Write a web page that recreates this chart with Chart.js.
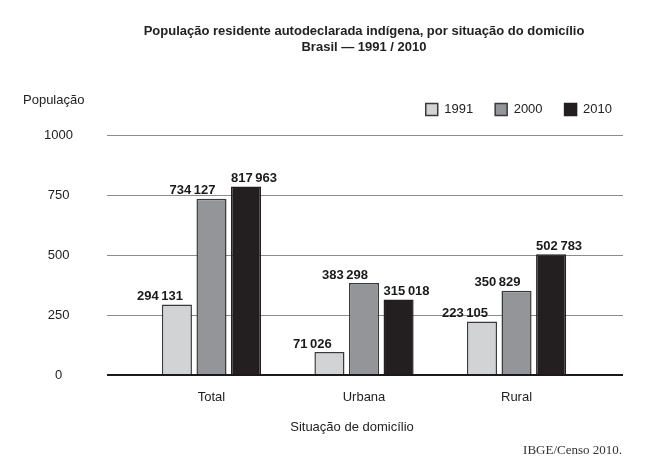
<!DOCTYPE html>
<html lang="pt-BR">
<head>
<meta charset="utf-8">
<script src="https://cdn.jsdelivr.net/npm/chart.js@4.4.0/dist/chart.umd.min.js"></script>
<style>
  html, body { margin: 0; padding: 0; background: #fff; }
</style>
</head>
<body>
<canvas id="chart" width="652" height="469"></canvas>
<script>
const categories = ['Total', 'Urbana', 'Rural'];
const years = ['1991', '2000', '2010'];
const heights1991 = [294.1, 96, 223.1];
const heights2000 = [734.1, 383.3, 350.8];
const heights2010 = [785, 315.0, 502.8];
// figures printed over the bars
const labels1991 = ['294\u2009131', '71\u2009026', '223\u2009105'];
const labels2000 = ['734\u2009127', '383\u2009298', '350\u2009829'];
const labels2010 = ['817\u2009963', '315\u2009018', '502\u2009783'];
const yTicks = [0, 250, 500, 750, 1000];

Chart.defaults.font.family = '"Liberation Sans", Arial, sans-serif';
Chart.defaults.color = '#222';

const printed = [labels1991, labels2000, labels2010];
const labelShift = [-17, -19, 8];

// extra room under the legend and nudge it to the right
const layoutTweaks = {
    id: 'layoutTweaks',
    beforeInit(chart) {
        const fit = chart.legend.fit;
        chart.legend.fit = function() {
            fit.call(this);
            this.height += 9;
        };
    },
    afterLayout(chart) {
        chart.legend.left += 11;
        chart.legend.right += 11;
    }
};

const barLabels = {
    id: 'barLabels',
    afterDatasetsDraw(chart) {
        const ctx = chart.ctx;
        ctx.save();
        ctx.font = 'bold 13px "Liberation Sans", Arial, sans-serif';
        ctx.fillStyle = '#1a1a1a';
        ctx.textAlign = 'center';
        ctx.textBaseline = 'middle';
        chart.data.datasets.forEach((ds, di) => {
            chart.getDatasetMeta(di).data.forEach((bar, i) => {
                ctx.fillText(printed[di][i], bar.x + labelShift[di], bar.y - 8);
            });
        });
        ctx.restore();
    }
};

const texts = {
    id: 'texts',
    afterDraw(chart) {
        const ctx = chart.ctx;
        ctx.save();
        ctx.fillStyle = '#222';
        ctx.textBaseline = 'middle';
        ctx.textAlign = 'center';
        ctx.font = 'bold 13px "Liberation Sans", Arial, sans-serif';
        ctx.fillText('População residente autodeclarada indígena, por situação do domicílio', 364, 31);
        ctx.fillText('Brasil — 1991 / 2010', 364, 47);
        ctx.font = '13px "Liberation Sans", Arial, sans-serif';
        ctx.fillText('Situação de domicílio', 352, 427);
        ctx.textAlign = 'left';
        ctx.fillText('População', 23, 100);
        ctx.textAlign = 'right';
        ctx.fillStyle = '#333';
        ctx.font = '13px "Liberation Serif", serif';
        ctx.fillText('IBGE/Censo 2010.', 622, 451);
        ctx.restore();
    }
};

const toPoints = arr => arr.map((h, i) => ({ x: i, y: h }));

new Chart(document.getElementById('chart'), {
    type: 'bar',
    data: {
        datasets: [{
            label: years[0],
            data: toPoints(heights1991),
            backgroundColor: '#d2d3d5',
            borderColor: '#3a3a3a',
            borderWidth: 1.5
        }, {
            label: years[1],
            data: toPoints(heights2000),
            backgroundColor: '#939598',
            borderColor: '#3a3a3a',
            borderWidth: 1.5
        }, {
            label: years[2],
            data: toPoints(heights2010),
            backgroundColor: '#231f20',
            borderColor: '#231f20',
            borderWidth: 1.5
        }]
    },
    options: {
        responsive: false,
        animation: false,
        devicePixelRatio: 1,
        categoryPercentage: 0.68,
        barPercentage: 0.87,
        layout: {
            padding: { top: 81, right: 29, bottom: 64, left: 0 }
        },
        plugins: {
            title: { display: false },
            tooltip: { enabled: false },
            legend: {
                position: 'top',
                align: 'end',
                labels: {
                    boxWidth: 12,
                    boxHeight: 12,
                    padding: 22,
                    color: '#222',
                    font: { size: 13 }
                }
            }
        },
        scales: {
            x: {
                type: 'linear',
                offset: false,
                min: -0.685,
                max: 2.698,
                grid: { display: false, drawTicks: false, offset: false },
                border: { display: false },
                afterBuildTicks: scale => {
                    scale.ticks = categories.map((c, i) => ({ value: i }));
                },
                afterFit: scale => {
                    scale.height = 30;
                },
                ticks: {
                    autoSkip: false,
                    maxRotation: 0,
                    padding: 15,
                    color: '#222',
                    font: { size: 13 },
                    callback: value => categories[value]
                }
            },
            y: {
                min: 0,
                max: 1000,
                afterBuildTicks: scale => {
                    scale.ticks = yTicks.map(v => ({ value: v }));
                },
                afterFit: scale => {
                    scale.width = 107;
                },
                grid: {
                    drawTicks: false,
                    color: c => c.tick.value === 0 ? '#1a1a1a' : '#8c8c8c',
                    lineWidth: c => c.tick.value === 0 ? 2 : 1
                },
                border: { display: false },
                ticks: {
                    crossAlign: 'center',
                    padding: 34,
                    color: '#222',
                    font: { size: 13 },
                    callback: value => String(value)
                }
            }
        }
    },
    plugins: [layoutTweaks, barLabels, texts]
});
</script>
</body>
</html>
